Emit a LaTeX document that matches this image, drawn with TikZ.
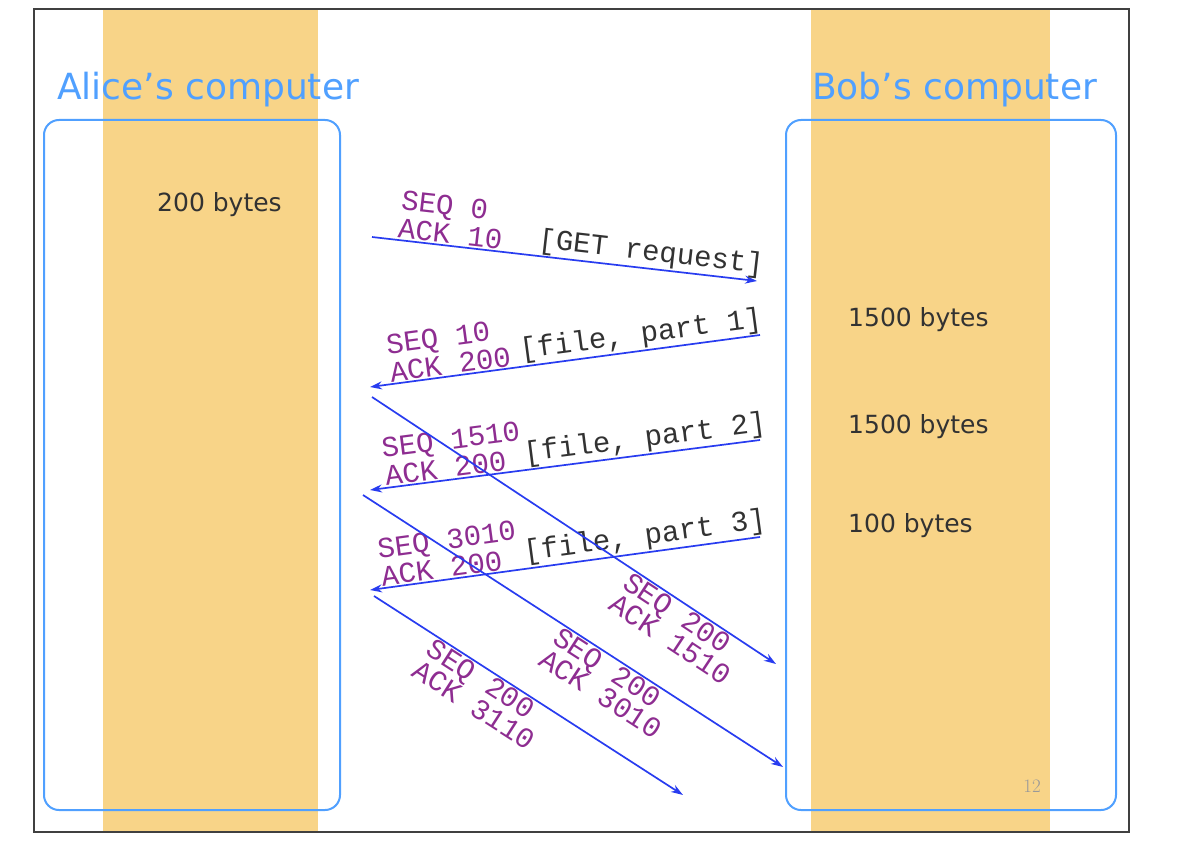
\documentclass[tikz,border=0pt]{standalone}
\usepackage{fontspec}
\usepackage{tikz}
\usetikzlibrary{arrows.meta, positioning}
\newfontfamily\titlefont{DejaVu Sans}
\newfontfamily\codefont{Liberation Mono}
\definecolor{band}{RGB}{248,212,136}
\definecolor{hostblue}{RGB}{80,160,255}
\definecolor{msgblue}{RGB}{40,60,240}
\definecolor{seqpurple}{RGB}{142,45,145}
\definecolor{pktgray}{RGB}{50,50,50}

\tikzset{
    host/.style={draw=hostblue, line width=2pt, rounded corners=15pt},
    hosttitle/.style={text=hostblue, font=\titlefont\fontsize{36}{40}\selectfont,
        inner sep=0pt, anchor=base west},
    bytes/.style={text=pktgray, font=\titlefont\fontsize{25}{28}\selectfont,
        inner sep=0pt, anchor=base west},
    msg/.style={draw=msgblue, line width=1.7pt, -{Stealth[length=12pt,width=8pt]}},
    seqack/.style={text=seqpurple, font=\codefont\fontsize{29}{28}\selectfont,
        align=left, sloped, inner sep=1pt},
    ackback/.style={seqack, font=\codefont\fontsize{29}{23}\selectfont},
    payload/.style={text=pktgray, font=\codefont\fontsize{29}{28}\selectfont,
        sloped, inner sep=1pt},
}

\begin{document}
\begin{tikzpicture}[x=1pt, y=-1pt]
\useasboundingbox (0,0) rectangle (1180,848);
\fill[white] (0,0) rectangle (1180,848);
\fill[band] (103,10) rectangle (318,832);
\fill[band] (811,10) rectangle (1050,832);
\draw[line width=1.5pt, black!75] (34,9) rectangle (1129,832);
\draw[host] (44,120) rectangle (340,810);
\draw[host] (786,120) rectangle (1116,810);

\node[hosttitle] (alice) at (57,100) {Alice’s computer};
\node[hosttitle] (bob) at (812,100) {Bob’s computer};
\node[bytes] (abytes) at (157,211) {200 bytes};
\node[bytes] (bbytes1) at (848,326) {1500 bytes};
\node[bytes] (bbytes2) at (848,433) {1500 bytes};
\node[bytes] (bbytes3) at (848,532) {100 bytes};
\node[text=black!40, font=\fontsize{19}{20}\selectfont, anchor=base east,
    inner sep=0pt] (page) at (1041,792) {12};

\coordinate (get-a) at (372,237);  \coordinate (get-b) at (757,281);
\coordinate (f1-b) at (760,335);   \coordinate (f1-a) at (370,387);
\coordinate (f2-b) at (760,440);   \coordinate (f2-a) at (370,490);
\coordinate (f3-b) at (760,537);   \coordinate (f3-a) at (370,590);
\coordinate (k1-a) at (372,397);   \coordinate (k1-b) at (776,664);
\coordinate (k2-a) at (363,495);   \coordinate (k2-b) at (783,767);
\coordinate (k3-a) at (374,596);   \coordinate (k3-b) at (683,795);

\draw[msg] (get-a) -- node[seqack, above, pos=0.2] (get-l) {SEQ 0\\ACK 10}
    node[payload, above, pos=0.72] (get-p) {[GET request]} (get-b);
\draw[msg] (f1-b) -- node[seqack, above, pos=0.79] (f1-l) {SEQ 10\\ACK 200}
    node[payload, above, pos=0.3] (f1-p) {[file, part 1]} (f1-a);
\draw[msg] (f2-b) -- node[seqack, above, pos=0.78] (f2-l) {SEQ 1510\\ACK 200}
    node[payload, above, pos=0.29] (f2-p) {[file, part 2]} (f2-a);
\draw[msg] (f3-b) -- node[seqack, above, pos=0.79] (f3-l) {SEQ 3010\\ACK 200}
    node[payload, above, pos=0.29] (f3-p) {[file, part 3]} (f3-a);
\draw[msg] (k1-a) -- node[ackback, below, pos=0.79] (k1-l) {SEQ 200\\ACK 1510} (k1-b);
\draw[msg] (k2-a) -- node[ackback, below, pos=0.615] (k2-l) {SEQ 200\\ACK 3010} (k2-b);
\draw[msg] (k3-a) -- node[ackback, below, pos=0.39] (k3-l) {SEQ 200\\ACK 3110} (k3-b);
\end{tikzpicture}
\end{document}
